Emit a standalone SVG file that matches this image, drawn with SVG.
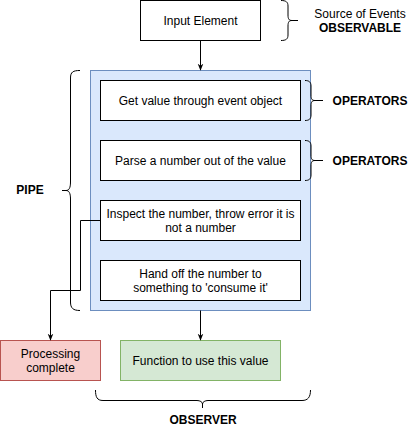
<svg xmlns="http://www.w3.org/2000/svg" width="412" height="432" viewBox="0 0 412 432">
<style>
text{font-family:"Liberation Sans",Arial,sans-serif;font-size:12px;fill:#000;text-anchor:middle}
.b{font-weight:bold}
.box{fill:#fff;stroke:#000;stroke-width:1}
.br{fill:none;stroke:#000;stroke-width:1}
.edge{fill:none;stroke:#000;stroke-width:1}
</style>
<defs>
<marker id="arr" viewBox="0 0 10 10" refX="9" refY="5" markerWidth="7" markerHeight="7" orient="auto" markerUnits="userSpaceOnUse">
<path d="M0,1 L10,5 L0,9 L3,5 Z" fill="#000"/>
</marker>
</defs>
<rect width="412" height="432" fill="#fff"/>
<g id="pipe-container">
<rect x="90.5" y="70.5" width="220" height="240" fill="#dae8fc" stroke="#6c8ebf"/>
</g>
<g id="input-element">
<rect class="box" x="140.5" y="0.5" width="120" height="40"/>
<text x="200.5" y="24.5">Input Element</text>
</g>
<g id="observable-brace">
<path class="br" d="M281,0.5 C286,0.5 288,2 288,6 L288,15 C288,19 289,20.5 292,20.5 L298,20.5 M292,20.5 C289,20.5 288,22 288,26 L288,35 C288,39 286,40.5 281,40.5"/>
<text x="360" y="18">Source of Events</text>
<text class="b" x="360" y="32">OBSERVABLE</text>
</g>
<g id="step1">
<rect class="box" x="100.5" y="80.5" width="200" height="40"/>
<text x="200.5" y="104.5">Get value through event object</text>
</g>
<g id="operators-brace-1">
<path class="br" d="M305,80.5 C309,80.5 311,82 311,86 L311,95 C311,99 312,100.5 315,100.5 L323,100.5 M315,100.5 C312,100.5 311,102 311,106 L311,115 C311,119 309,120.5 305,120.5"/>
<text class="b" x="370" y="105">OPERATORS</text>
</g>
<g id="step2">
<rect class="box" x="100.5" y="140.5" width="200" height="40"/>
<text x="200.5" y="164.5">Parse a number out of the value</text>
</g>
<g id="operators-brace-2">
<path class="br" d="M305,140.5 C309,140.5 311,142 311,146 L311,155 C311,159 312,160.5 315,160.5 L323,160.5 M315,160.5 C312,160.5 311,162 311,166 L311,175 C311,179 309,180.5 305,180.5"/>
<text class="b" x="370" y="165">OPERATORS</text>
</g>
<g id="step3">
<rect class="box" x="100.5" y="200.5" width="200" height="40"/>
<text x="200.5" y="218">Inspect the number, throw error it is</text>
<text x="200.5" y="232">not a number</text>
</g>
<g id="step4">
<rect class="box" x="100.5" y="260.5" width="200" height="40"/>
<text x="200.5" y="278">Hand off the number to</text>
<text x="200.5" y="292">something to 'consume it'</text>
</g>
<g id="pipe-brace">
<path class="br" d="M80,70.5 C73,70.5 70.5,72 70.5,78 L70.5,182 C70.5,188 69,190.5 66,190.5 L62,190.5 M66,190.5 C69,190.5 70.5,193 70.5,199 L70.5,302 C70.5,308 73,310.5 80,310.5"/>
<text class="b" x="30" y="194">PIPE</text>
</g>
<g id="processing-complete">
<rect x="0.5" y="340.5" width="100" height="40" fill="#f8cecc" stroke="#b85450"/>
<text x="50.5" y="358">Processing</text>
<text x="50.5" y="372">complete</text>
</g>
<g id="function-value">
<rect x="120.5" y="340.5" width="160" height="40" fill="#d5e8d4" stroke="#82b366"/>
<text x="200.5" y="365">Function to use this value</text>
</g>
<g id="observer-brace">
<path class="br" d="M95.5,390 C95.5,397 97,400.5 103,400.5 L197,400.5 C200,400.5 202.5,402 202.5,404 L202.5,408 M202.5,404 C202.5,402 205,400.5 208,400.5 L302,400.5 C308,400.5 310.5,397 310.5,390"/>
<text class="b" x="203" y="424">OBSERVER</text>
</g>
<g id="connectors">
<path class="edge" d="M200.5,40.5 L200.5,70" marker-end="url(#arr)"/>
<path class="edge" d="M100.5,220.5 L80.5,220.5 L80.5,290.5 L50.5,290.5 L50.5,340" marker-end="url(#arr)"/>
<path class="edge" d="M200.5,310.5 L200.5,340" marker-end="url(#arr)"/>
</g>
</svg>
